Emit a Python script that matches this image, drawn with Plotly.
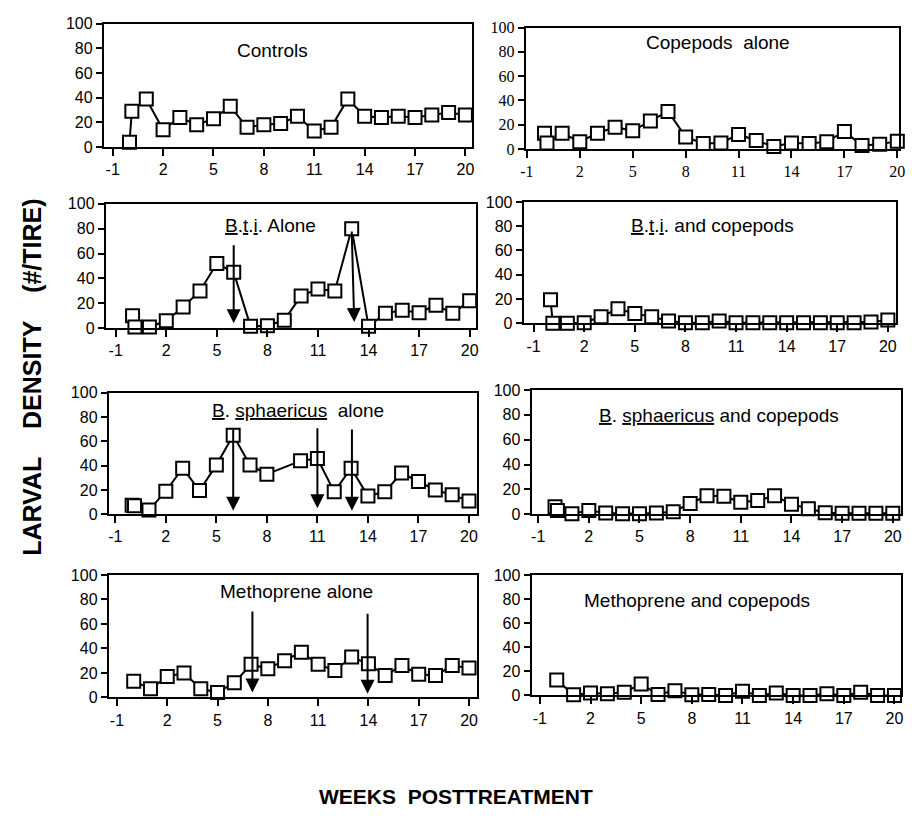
import plotly.graph_objects as go

# ---------------- data ----------------
weeks = [0, 0.14, 1, 2, 3, 4, 5, 6, 7, 8, 9, 10, 11, 12, 13, 14, 15, 16, 17, 18, 19, 20]

controls = [4, 29, 39, 14, 24, 18, 23, 33, 16, 18, 19, 25, 13, 16, 39, 25, 24, 25, 24, 26, 28, 26]
copepods_alone = [13, 5, 13, 6, 13, 18, 15, 23, 31, 10, 4.5, 5, 12, 7, 2, 5, 4.5, 6, 14.5, 3, 4, 6.5]
bti_alone = [10, 1, 1, 6, 17, 30, 52, 45, 1.5, 2, 6.5, 26, 31.5, 30, 80, 1.5, 12, 14.5, 12.5, 18.5, 12, 22]
bti_copepods = [19.5, 0, 0, 0.5, 5.5, 12, 8, 5.5, 2, 0.5, 0.5, 2, 0.5, 0.5, 0.5, 0.5, 0.5, 0.5, 0.5, 0.5, 1, 2.7]
bsph_alone = [7.5, 7, 3.5, 19, 38, 19.5, 40.5, 65, 40.5, 33, None, 44, 46, 18.5, 38, 15, 18.5, 34, 27, 20, 16, 11]
bsph_copepods = [6, 3, 0.5, 3, 1, 0.5, 0.5, 1, 2, 8.7, 15, 14.5, 9.7, 11, 15, 8, 4.5, 1.3, 0.8, 0.8, 0.8, 0.8]
metho_alone = [13.3, None, 7, 17, 20, 7, 4, 12, 27, 23.5, 30, 37, 27, 22, 33, 27.5, 18, 26, 19, 18, 26, 24]
metho_copepods = [12.8, None, 0.5, 2, 1.4, 2.7, 9.5, 0.8, 4, 0.5, 0.8, 0, 3.5, 0, 2, 0, 0, 1.4, 0, 2.7, 0, 0]

panel_titles = [
    "Controls",
    "Copepods  alone",
    "<u>B</u>.<u>t</u>.<u>i</u>. Alone",
    "<u>B</u>.<u>t</u>.<u>i</u>. and copepods",
    "<u>B</u>. <u>sphaericus</u>  alone",
    "<u>B</u>. <u>sphaericus</u> and copepods",
    "Methoprene alone",
    "Methoprene and copepods",
]
series = [controls, copepods_alone, bti_alone, bti_copepods,
          bsph_alone, bsph_copepods, metho_alone, metho_copepods]

x_ticks = [-1, 2, 5, 8, 11, 14, 17, 20]
y_ticks = [0, 20, 40, 60, 80, 100]

# treatment arrows: (tail week, tail value, head week, head value)
bti_arrows = [(6, 68, 6, 4), (13, 79, 13.15, 5)]
bsph_arrows = [(6, 71, 6, 3), (11, 72, 11, 5), (13.05, 71, 13.05, 3)]
metho_arrows = [(7.08, 71.5, 7.08, 4), (13.95, 69.5, 13.95, 3)]
arrows_by_panel = {2: bti_arrows, 4: bsph_arrows, 6: metho_arrows}

# ---------------- layout geometry (pixels) ----------------
W, H = 912, 821
boxes = [  # x0, x1, y_top, y_bottom
    (100, 473, 16, 142),
    (527, 905, 20, 144),
    (102, 477, 200, 327),
    (525, 902, 198, 322),
    (105, 478, 393, 517),
    (533, 907, 390, 517),
    (105, 478, 579, 704),
    (533, 907, 579, 702),
]
x_ranges = [
    (-1.53, 20.41), (-1.07, 20.1), (-1.59, 20.39), (-1.59, 20.49),
    (-1.39, 20.49), (-1.39, 20.49), (-1.49, 20.49), (-1.49, 20.39),
]
title_pos = [  # center x, center y (pixels)
    (271, 43), (722, 35), (269, 222), (716, 222),
    (297, 411), (723, 416), (295, 596), (700, 605),
]


def px(x):
    return x / W


def py(y):
    return 1 - y / H


FONT = "Liberation Sans, Arial, sans-serif"
SERIF = "Liberation Serif, Times New Roman, serif"

fig = go.Figure()
layout = dict(
    width=W, height=H,
    margin=dict(l=0, r=0, t=0, b=0),
    paper_bgcolor="white", plot_bgcolor="white",
    showlegend=False,
    font=dict(family=FONT, color="black"),
)
annotations = []

for i, (vals, box) in enumerate(zip(series, boxes)):
    n = i + 1
    xa = "xaxis" if n == 1 else f"xaxis{n}"
    ya = "yaxis" if n == 1 else f"yaxis{n}"
    xr = "x" if n == 1 else f"x{n}"
    yr = "y" if n == 1 else f"y{n}"
    x0, x1, yt, yb = box
    tickfont = dict(family=SERIF if n == 2 else FONT, size=16, color="black")
    layout[xa] = dict(
        domain=[px(x0), px(x1)], anchor=yr, range=list(x_ranges[i]),
        tickvals=x_ticks, ticktext=[str(t) for t in x_ticks],
        showgrid=False, zeroline=False, showline=True, linecolor="black",
        linewidth=2, mirror=True, ticks="outside", ticklen=7, tickwidth=2,
        tickcolor="black", tickfont=tickfont,
    )
    layout[ya] = dict(
        domain=[py(yb), py(yt)], anchor=xr, range=[0, 100],
        tickvals=y_ticks, showgrid=False, zeroline=False, showline=True,
        linecolor="black", linewidth=2, mirror=True, ticks="outside",
        ticklen=6, tickwidth=2, tickcolor="black", tickfont=tickfont,
    )
    fig.add_trace(go.Scatter(
        x=weeks, y=vals, xaxis=xr, yaxis=yr, mode="lines+markers",
        connectgaps=True, cliponaxis=False,
        line=dict(color="black", width=2),
        marker=dict(symbol="square", size=13, color="white",
                    line=dict(color="black", width=2)),
    ))
    tx, ty = title_pos[i]
    annotations.append(dict(
        x=px(tx), y=py(ty), xref="paper", yref="paper", showarrow=False,
        text=panel_titles[i], xanchor="center", yanchor="middle",
        font=dict(family=FONT, size=19, color="black"),
    ))
    for (axw, ayv, hxw, hyv) in arrows_by_panel.get(i, []):
        annotations.append(dict(
            x=hxw, y=hyv, ax=axw, ay=ayv, xref=xr, yref=yr,
            axref=xr, ayref=yr, showarrow=True, text="",
            arrowhead=2, arrowsize=1.4, arrowwidth=2, arrowcolor="black",
        ))

annotations.append(dict(
    x=px(28), y=py(377), xref="paper", yref="paper", showarrow=False,
    text="<b>LARVAL&nbsp;&nbsp;&nbsp;&nbsp;DENSITY&nbsp;&nbsp;&nbsp;&nbsp;(#/TIRE)</b>",
    textangle=-90, xanchor="center", yanchor="middle",
    font=dict(family=FONT, size=25, color="black"),
))
annotations.append(dict(
    x=px(457), y=py(805), xref="paper", yref="paper", showarrow=False,
    text="<b>WEEKS&nbsp;&nbsp;POSTTREATMENT</b>",
    xanchor="center", yanchor="middle",
    font=dict(family=FONT, size=21, color="black"),
))
layout["annotations"] = annotations
fig.update_layout(**layout)
fig.write_html(
    "out.html",
    config={"displayModeBar": False},
    post_script="document.body.style.margin='0';document.body.style.overflow='hidden';",
)
